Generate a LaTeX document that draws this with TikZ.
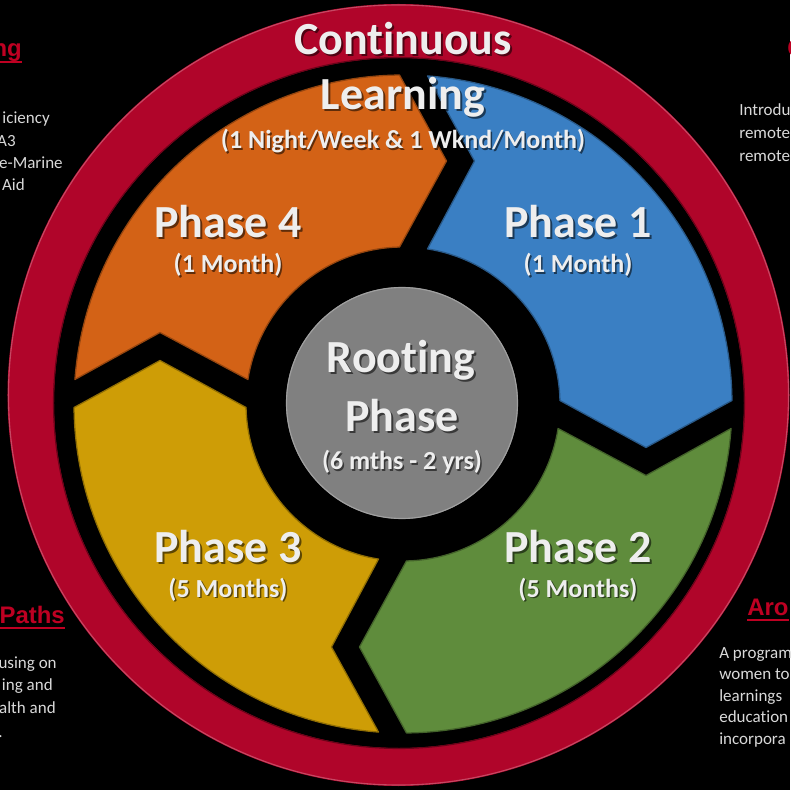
\documentclass[tikz,border=0pt]{standalone}
\usepackage{fontspec}
\setmainfont{Carlito}[Ligatures=NoCommon]
\newfontfamily\headfont{Liberation Sans}
\usetikzlibrary{calc}
\definecolor{ringred}{RGB}{176,5,42}
\definecolor{phorange}{RGB}{211,98,22}
\definecolor{phblue}{RGB}{58,127,195}
\definecolor{phgreen}{RGB}{95,140,60}
\definecolor{phyellow}{RGB}{206,157,6}
\definecolor{hubgray}{RGB}{128,128,128}
\definecolor{txtlight}{RGB}{238,238,238}
\definecolor{notegray}{RGB}{217,217,217}
\definecolor{headred}{RGB}{190,0,34}
\begin{document}
\begin{tikzpicture}[x=0.25mm,y=0.25mm]
\tikzset{seg/.style={line width=.9pt,line join=round},
  lbl/.style={anchor=base,inner sep=0pt,text=txtlight,font=\bfseries\fontsize{32.7}{36}\selectfont},
  sublbl/.style={lbl,font=\bfseries\fontsize{18.5}{22}\selectfont},
  drop/.style={text=black,text opacity=.55},
  note/.style={inner sep=0pt,text=notegray,font=\fontsize{12.1}{14}\selectfont},
  head/.style={inner sep=0pt,text=headred,font=\headfont\bfseries\fontsize{17}{20}\selectfont},
  hline/.style={headred,line width=1.5pt}}
% page and background
\useasboundingbox (-403,-386) rectangle (387,404);
\fill[black] (-403,-386) rectangle (387,404);
\clip (-403,-386) rectangle (387,404);
% outer ring
\fill[ringred,even odd rule] (-4.5,9) circle[radius=391] (-4,1) circle[radius=345];
\draw[ringred!55!white,line width=.8pt,opacity=.6] (-4.5,9) circle[radius=390];
\draw[ringred!60!black,line width=.8pt] (-4,1) circle[radius=345.5];
% the four block arcs, one shape turned round the centre
\pgfmathsetmacro{\Ro}{329}
\pgfmathsetmacro{\Ri}{157}
\pgfmathsetmacro{\aA}{90+asin(3.5/329)}
\pgfmathsetmacro{\aB}{180-asin(24.5/329)}
\pgfmathsetmacro{\aC}{180-asin(24.5/157)}
\pgfmathsetmacro{\aD}{90+asin(3.5/157)}
\foreach \rot/\clr in {0/phorange,-90/phblue,-180/phgreen,90/phyellow}
  \filldraw[seg,fill=\clr,draw=\clr!70!black,rotate=\rot]
    (\aD:\Ri) -- (43.5,243) -- (\aA:\Ro)
    arc[start angle=\aA,end angle=\aB,radius=\Ro]
    -- (-243,71.5) -- (\aC:\Ri)
    arc[start angle=\aC,end angle=\aD,radius=\Ri] -- cycle;
% hub
\fill[hubgray] (-1,1) circle[radius=116];
\draw[hubgray!75!white,line width=.8pt] (-1,1) circle[radius=115.5];
%%%
% big labels
\foreach \nm/\x/\y/\txt in {cont/0/349/Continuous,learn/0/294/Learning,
  ph4/-175/166/Phase 4,ph1/175/166/Phase 1,ph3/-175/-158/Phase 3,ph2/175/-158/Phase 2,
  root/-2/31/Rooting,rootb/-1/-28/Phase}
{
  \node[lbl,drop] (\nm-sh) at (\x+2,\y-2) {\txt};
  \node[lbl] (\nm) at (\x,\y) {\txt};
}
% small labels
\foreach \nm/\x/\y/\txt in {freq/0/255/{(1 Night/Week \& 1 Wknd/Month)},
  m4/-175/131/(1 Month),m1/175/131/(1 Month),m3/-175/-193/(5 Months),
  m2/175/-193/(5 Months),dur/-1/-66/(6 mths - 2 yrs)}
{
  \node[sublbl,drop] (\nm-sh) at (\x+1.5,\y-1.5) {\txt};
  \node[sublbl] (\nm) at (\x,\y) {\txt};
}
%%%
% side notes
\node[head,anchor=base east] (hdA) at (-381,347) {ng};
\draw[hline] ($(hdA.base west)+(0,-5)$) -- ($(hdA.base east)+(0,-5)$);
\foreach \nm/\x/\y/\txt in {la/-353/280/iciency,lb/-387/257/A3,lc/-340/235/e-Marine,ld/-378/213/Aid,
  le/-346/-264/using on,lf/-350/-286/ing and,lg/-347/-309/alth and,lh/-400/-333/.}
  \node[note,anchor=base east] (\nm) at (\x,\y) {\txt};
\node[head,anchor=base east] (hdB) at (-338,-219) {Paths};
\draw[hline] ($(hdB.base west)+(0,-5)$) -- ($(hdB.base east)+(0,-5)$);
\node[head,anchor=base west] (hdC) at (384,347) {C};
\node[head,anchor=base west] (hdD) at (344,-211) {Aro};
\draw[hline] ($(hdD.base west)+(0,-5)$) -- ($(hdD.base east)+(0,-5)$);
\foreach \nm/\y/\txt in {ra/288/Introdu,rb/265/remote,rc/242/remote}
  \node[note,anchor=base west] (\nm) at (336,\y) {\txt};
\foreach \nm/\y/\txt in {rd/-254/A program,re/-275.5/women to,rf/-297/learnings,
  rg/-318.5/education,rh/-340/incorpora}
  \node[note,anchor=base west] (\nm) at (316,\y) {\txt};
\end{tikzpicture}
\end{document}
